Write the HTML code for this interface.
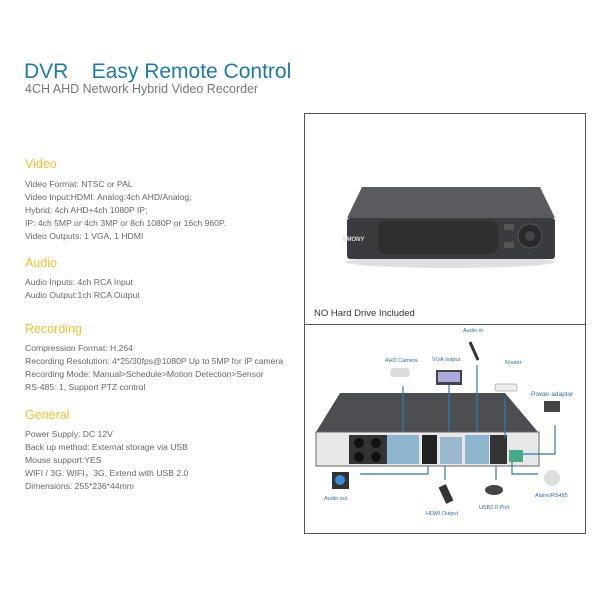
<!DOCTYPE html>
<html><head><meta charset="utf-8"><style>
body{margin:0;width:600px;height:600px;background:#fff;position:relative;overflow:hidden;font-family:"Liberation Sans",sans-serif}
.a{position:absolute;white-space:nowrap}
.t{left:25px;font-size:8.6px;color:#666;line-height:13px}
.h{left:25px;font-size:12.5px;color:#f0c030}
</style></head><body>
<div class="a" style="left:24px;top:60px;font-size:21px;color:#1f7aa8">DVR&nbsp;&nbsp;&nbsp;&nbsp;Easy Remote Control</div>
<div class="a" style="left:25px;top:82px;font-size:12.5px;color:#777">4CH AHD Network Hybrid Video Recorder</div>

<div class="a h" style="top:157px">Video</div>
<div class="a t" style="top:178px">Video Format: NTSC or PAL<br>Video Input:HDMI: Analog:4ch AHD/Analog;<br>Hybrid: 4ch AHD+4ch 1080P IP;<br>IP: 4ch 5MP or 4ch 3MP or 8ch 1080P or 16ch 960P.<br>Video Outputs: 1 VGA, 1 HDMI</div>
<div class="a h" style="top:256px">Audio</div>
<div class="a t" style="top:276px">Audio Inputs: 4ch RCA Input<br>Audio Output:1ch RCA Output</div>
<div class="a h" style="top:322px">Recording</div>
<div class="a t" style="top:342px">Compression Format: H.264<br>Recording Resolution: 4*25/30fps@1080P Up to 5MP for IP camera<br>Recording Mode: Manual&gt;Schedule&gt;Motion Detection&gt;Sensor<br>RS-485: 1, Support PTZ control</div>
<div class="a h" style="top:408px">General</div>
<div class="a t" style="top:428px">Power Supply: DC 12V<br>Back up method: External storage via USB<br>Mouse support:YES<br>WIFI / 3G: WIFI，3G, Extend with USB 2.0<br>Dimensions: 255*236*44mm</div>

<svg class="a" style="left:0;top:0" width="600" height="600">
<rect x="304.5" y="113.5" width="281" height="420" fill="none" stroke="#555" stroke-width="1"/>
<line x1="304" y1="324.5" x2="586" y2="324.5" stroke="#555"/>
<!-- front DVR -->
<ellipse cx="450" cy="262" rx="105" ry="6" fill="#ccc" opacity=".6"/>
<polygon points="362,187 540,187 555,218 347,218" fill="#5a5b5e"/>
<rect x="347" y="218" width="208" height="41" rx="3" fill="#3a3b3e"/>
<rect x="378" y="221" width="120" height="33" rx="8" fill="#2e2f31"/>
<text x="342" y="241" font-size="6" fill="#ddd" font-style="italic" font-weight="bold">RMONY</text>
<circle cx="530" cy="236" r="12" fill="#2a2a2c" stroke="#555"/>
<circle cx="530" cy="236" r="5" fill="#444"/>
<rect x="504" y="224" width="10" height="6" fill="#555"/><rect x="504" y="242" width="10" height="6" fill="#555"/>
<text x="314" y="316" font-size="9.5" fill="#333">NO Hard Drive Included</text>
<!-- back diagram -->
<polygon points="340,393 505,393 538,432 316,432" fill="#4d4e52"/>
<rect x="316" y="432" width="223" height="34" fill="#e8e8e8" stroke="#666"/>
<rect x="349" y="435" width="38" height="29" fill="#333"/>
<circle cx="359" cy="443" r="5" fill="#111"/><circle cx="376" cy="443" r="5" fill="#111"/>
<circle cx="359" cy="457" r="5" fill="#111"/><circle cx="376" cy="457" r="5" fill="#111"/>
<rect x="387" y="435" width="32" height="29" fill="#8fb6cf"/>
<rect x="422" y="435" width="15" height="29" fill="#222"/>
<rect x="440" y="437" width="22" height="27" fill="#9ab8cc"/>
<rect x="465" y="435" width="24" height="29" fill="#8fb6cf"/>
<rect x="490" y="435" width="17" height="29" fill="#333"/>
<rect x="509" y="450" width="14" height="12" fill="#4a8"/>
<g stroke="#2f78b0" stroke-width="1.2" fill="none">
<polyline points="403,386 403,432"/><polyline points="449,385 449,432"/><polyline points="477,365 477,432"/>
<polyline points="505,398 505,438"/><polyline points="555,425 555,454 523,454"/>
<polyline points="428,466 428,474 360,474"/><polyline points="445,466 445,480"/>
<polyline points="496,466 496,480"/><polyline points="512,462 512,474 538,474"/>
</g>
<rect x="332" y="472" width="17" height="17" fill="#333"/><circle cx="340" cy="480" r="5" fill="#3a8ad0"/>
<rect x="436" y="370" width="26" height="15" fill="#444"/><rect x="438" y="372" width="22" height="10" fill="#aad"/>
<rect x="390" y="368" width="20" height="9" rx="3" fill="#ddd"/>
<line x1="470" y1="342" x2="478" y2="360" stroke="#333" stroke-width="3"/>
<rect x="495" y="384" width="22" height="7" rx="2" fill="#eee" stroke="#bbb"/>
<rect x="544" y="401" width="16" height="11" fill="#444"/>
<circle cx="552" cy="478" r="8" fill="#ddd"/>
<rect x="442" y="485" width="8" height="18" fill="#333" transform="rotate(-25 446 494)"/>
<ellipse cx="494" cy="490" rx="9" ry="5" fill="#444"/>
<g font-size="5.5" fill="#2f6fa0">
<text x="463" y="332">Audio in</text><text x="385" y="362">AHD Camera</text><text x="432" y="361">VGA output</text>
<text x="505" y="364">Router</text><text x="531" y="396" font-size="6.5">Power adaptor</text>
<text x="324" y="500">Audio out</text><text x="426" y="515">HDMI Output</text>
<text x="479" y="509">USB2.0 Port</text><text x="535" y="497">Alarm/RS485</text>
</g>
</svg>
</body></html>
